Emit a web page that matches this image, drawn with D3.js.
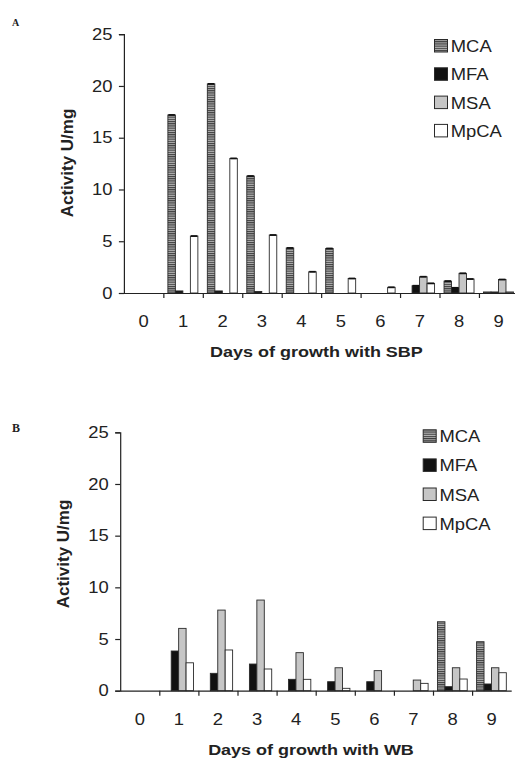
<!DOCTYPE html>
<html>
<head>
<meta charset="utf-8">
<script src="https://cdn.jsdelivr.net/npm/d3@7"></script>
<style>
  body { margin: 0; background: #fff; }
  svg { display: block; }
  text { font-family: "Liberation Sans", Arial, sans-serif; fill: #222; }
</style>
</head>
<body>
<div id="chart"></div>
<script>
var width = 515,
    height = 760;

// categories and series
var days = ["0", "1", "2", "3", "4", "5", "6", "7", "8", "9"];
var seriesNames = ["MCA", "MFA", "MSA", "MpCA"];
var yTicks = [0, 5, 10, 15, 20, 25];

// panel A: growth with SBP (U/mg)
var sbpMCA  = [0, 17.2, 20.2, 11.3, 4.35, 4.3, 0, 0, 1.15, 0.1];
var sbpMFA  = [0, 0.2, 0.2, 0.15, 0, 0, 0, 0.7, 0.5, 0.1];
var sbpMSA  = [0, 0, 0, 0, 0, 0, 0, 1.57, 1.9, 1.3];
var sbpMpCA = [0, 5.5, 13.0, 5.6, 2.05, 1.4, 0.55, 0.93, 1.35, 0.1];

// panel B: growth with WB (U/mg)
var wbMCA  = [0, 0, 0, 0, 0, 0, 0, 0, 6.67, 4.74];
var wbMFA  = [0, 3.84, 1.68, 2.58, 1.1, 0.87, 0.87, 0, 0.39, 0.65];
var wbMSA  = [0, 6.03, 7.8, 8.77, 3.68, 2.22, 1.94, 1.03, 2.22, 2.22];
var wbMpCA = [0, 2.7, 3.94, 2.1, 1.1, 0.23, 0, 0.71, 1.13, 1.74];

var panels = [
    { tag: "A", xTitle: "Days of growth with SBP", values: [sbpMCA, sbpMFA, sbpMSA, sbpMpCA],
      left: 123.9, right: 518.4, bottom: 293, top: 34.2, caps: true,
      tagX: 12, tagY: 26, tagSize: 10, yLabelX: 72.5, yLabelY: 163,
      legendX: 434, legendY: 39, legendStep: 28.3 },
    { tag: "B", xTitle: "Days of growth with WB", values: [wbMCA, wbMFA, wbMSA, wbMpCA],
      left: 120.2, right: 511.2, bottom: 690.7, top: 432.3, caps: false,
      tagX: 12, tagY: 432, tagSize: 12, yLabelX: 68.5, yLabelY: 554,
      legendX: 422.7, legendY: 429.3, legendStep: 29.1 }
];

var fills = {
    MCA: "url(#stripes)",
    MFA: "#111",
    MSA: "#c6c6c6",
    MpCA: "#fff"
};

var svg = d3.select("#chart").append("svg")
    .attr("width", width)
    .attr("height", height);

var defs = svg.append("defs");
var pat = defs.append("pattern")
    .attr("id", "stripes")
    .attr("patternUnits", "userSpaceOnUse")
    .attr("width", 4)
    .attr("height", 2.2);
pat.append("rect")
    .attr("width", 4)
    .attr("height", 2.2)
    .attr("fill", "#b4b4b4");
pat.append("rect")
    .attr("width", 4)
    .attr("height", 1.1)
    .attr("fill", "#3c3c3c");

// text in the reference is a little wide, so squeeze it through a scale
var stretch = function(sel, sx) {
    sel.each(function() {
        var t = d3.select(this);
        var x = +t.attr("x") || 0;
        t.attr("x", x / sx).attr("transform", "scale(" + sx + ",1)");
    });
};

panels.forEach(function(p) {
    var g = svg.append("g");

    var x0 = d3.scaleBand()
        .domain(days)
        .range([p.left, p.right])
        .padding(0);

    var bw = x0.bandwidth();
    var x1 = d3.scaleBand()
        .domain(seriesNames)
        .range([bw * 0.115, bw * 0.875])
        .padding(0);

    var y = d3.scaleLinear()
        .domain([0, 25])
        .range([p.bottom, p.top]);

    // bars
    var rows = [];
    days.forEach(function(day, i) {
        seriesNames.forEach(function(s, j) {
            rows.push({ day: day, series: s, value: p.values[j][i] });
        });
    });

    g.selectAll(".bar")
        .data(rows.filter(function(d) { return d.value > 0; }))
        .enter().append("rect")
        .attr("class", "bar")
        .attr("x", function(d) { return x0(d.day) + x1(d.series); })
        .attr("y", function(d) { return y(d.value); })
        .attr("width", x1.bandwidth())
        .attr("height", function(d) { return y(0) - y(d.value); })
        .attr("fill", function(d) { return fills[d.series]; })
        .attr("stroke", "#2a2a2a")
        .attr("stroke-width", 0.9);

    if (p.caps) {
        g.selectAll(".cap")
            .data(rows.filter(function(d) { return d.value > 0.3; }))
            .enter().append("line")
            .attr("class", "cap")
            .attr("x1", function(d) { return x0(d.day) + x1(d.series) + 0.5; })
            .attr("x2", function(d) { return x0(d.day) + x1(d.series) + x1.bandwidth() - 0.5; })
            .attr("y1", function(d) { return y(d.value); })
            .attr("y2", function(d) { return y(d.value); })
            .attr("stroke", "#111")
            .attr("stroke-width", 1.8);
    }

    // y axis
    var yAxis = g.append("g")
        .attr("transform", "translate(" + p.left + ",0)")
        .call(d3.axisLeft(y).tickValues(yTicks).tickSize(5).tickPadding(6.5));
    yAxis.selectAll("path, line").attr("stroke", "#222").attr("stroke-width", 1.2);
    yAxis.selectAll("text")
        .style("font-size", "16px")
        .style("font-family", "'Liberation Sans', Arial, sans-serif")
        .attr("fill", "#222")
        .call(stretch, 1.15);

    // x axis: labels in the middle of each day
    var xAxis = g.append("g")
        .attr("transform", "translate(0," + p.bottom + ")")
        .call(d3.axisBottom(x0).tickSize(0).tickSizeOuter(0).tickPadding(22.5));
    xAxis.select(".domain").attr("stroke", "#222").attr("stroke-width", 1.2);
    xAxis.selectAll("text")
        .style("font-size", "16px")
        .style("font-family", "'Liberation Sans', Arial, sans-serif")
        .attr("fill", "#222")
        .call(stretch, 1.15);

    // x axis: small marks between the days
    var xb = d3.scaleLinear().domain([0, days.length]).range([p.left, p.right]);
    var xMarks = g.append("g")
        .attr("transform", "translate(0," + p.bottom + ")")
        .call(d3.axisBottom(xb).tickValues(d3.range(1, days.length)).tickSize(5).tickFormat(""));
    xMarks.select(".domain").remove();
    xMarks.selectAll("line").attr("stroke", "#222").attr("stroke-width", 1.2);

    // titles
    g.append("text")
        .attr("transform", "translate(" + p.yLabelX + "," + p.yLabelY + ") rotate(-90)")
        .attr("text-anchor", "middle")
        .style("font-size", "17px")
        .style("font-weight", "bold")
        .text("Activity U/mg");

    var xt = g.append("g")
        .attr("transform", "translate(" + ((p.left + p.right) / 2 - 4.7) + "," + (p.bottom + 64.3) + ") scale(1.2,1)");
    xt.append("text")
        .attr("text-anchor", "middle")
        .style("font-size", "15px")
        .style("font-weight", "bold")
        .text(p.xTitle);

    g.append("text")
        .attr("x", p.tagX)
        .attr("y", p.tagY)
        .style("font-family", "'Liberation Serif', 'Times New Roman', serif")
        .style("font-size", p.tagSize + "px")
        .style("font-weight", "bold")
        .text(p.tag);

    // legend
    var legend = g.selectAll(".legend")
        .data(seriesNames)
        .enter().append("g")
        .attr("class", "legend")
        .attr("transform", function(d, i) {
            return "translate(" + p.legendX + "," + (p.legendY + i * p.legendStep) + ")";
        });

    legend.append("rect")
        .attr("x", 0.5)
        .attr("y", 0.5)
        .attr("width", 13)
        .attr("height", 12.5)
        .attr("fill", function(d) { return fills[d]; })
        .attr("stroke", "#2a2a2a")
        .attr("stroke-width", 1);

    legend.append("text")
        .attr("x", 16.8)
        .attr("y", 13)
        .style("font-size", "16px")
        .text(function(d) { return d; })
        .call(stretch, 1.15);
});
</script>
</body>
</html>
